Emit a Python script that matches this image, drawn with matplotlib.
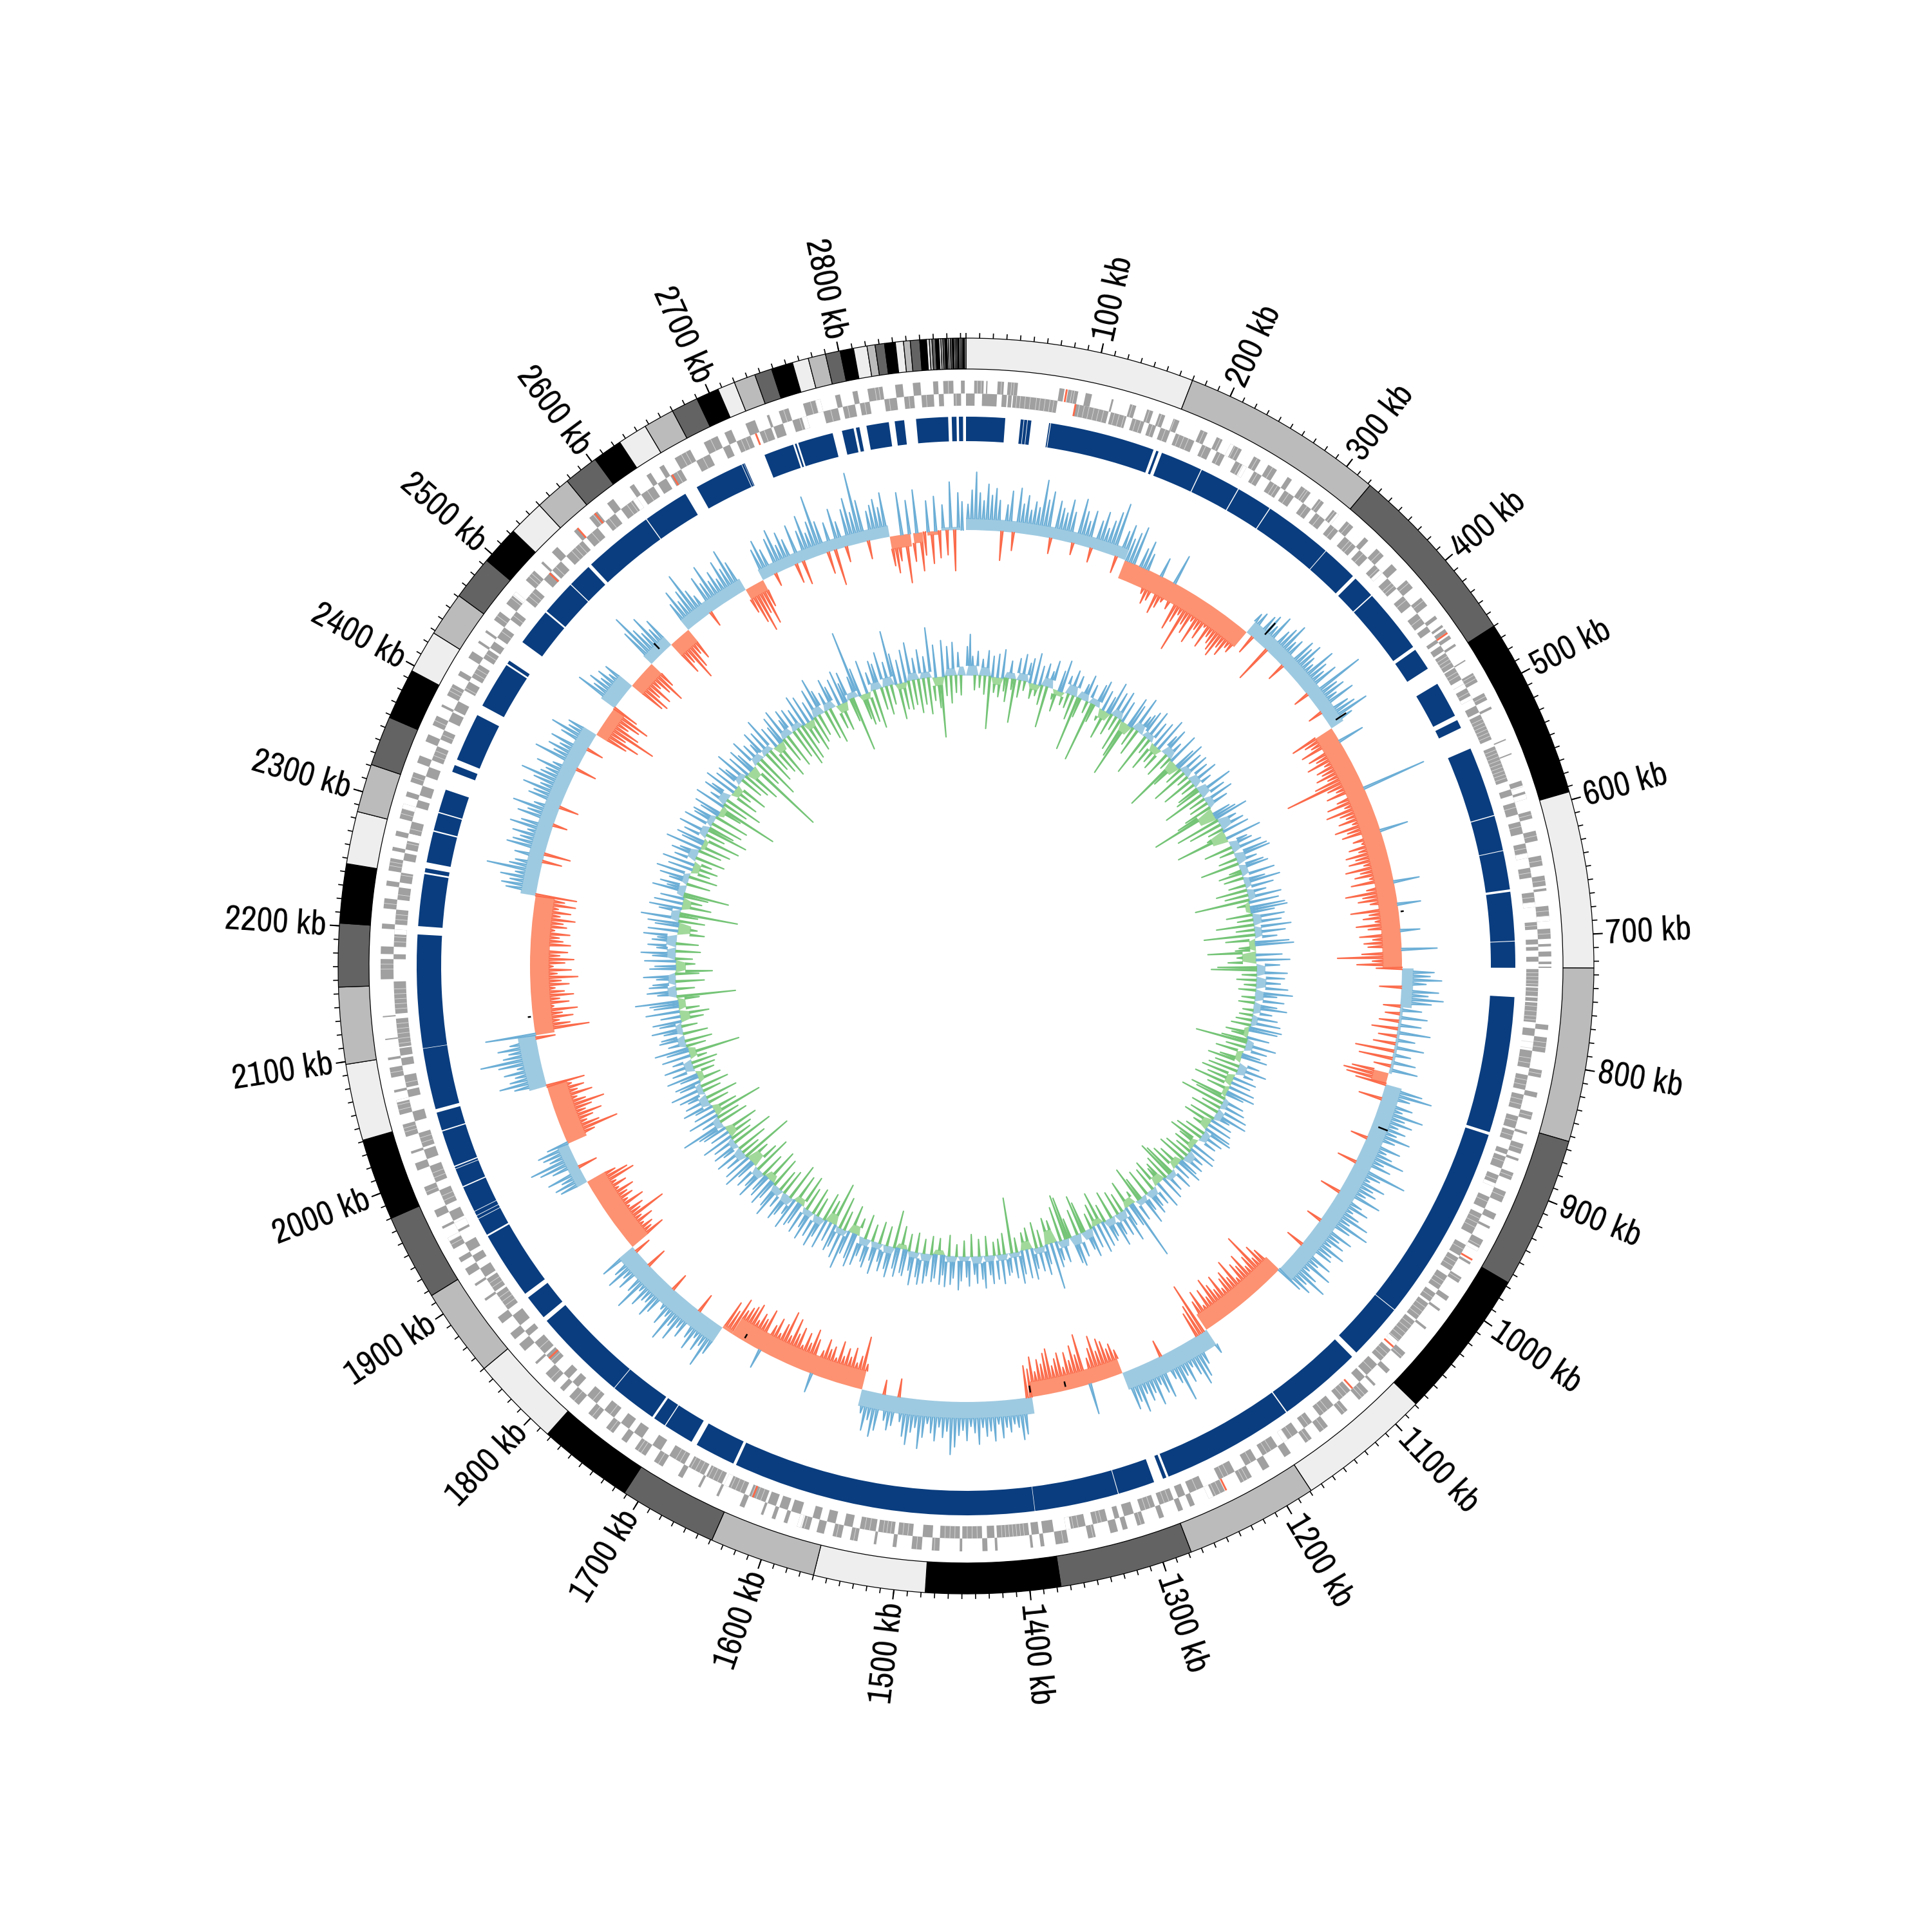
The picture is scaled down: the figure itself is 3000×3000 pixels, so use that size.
import numpy as np
import matplotlib
matplotlib.use('Agg')
from matplotlib import pyplot as plt

genome_kb = 2894.0

# contig borders of the outer ring (kb), colours cycle through band_colors
contig_edges = [0, 170, 322, 460, 594, 725, 854, 967, 1079, 1179, 1278, 1377, 1477, 1560, 1639, 1712, 1783,
                1850, 1916, 1980, 2041, 2098, 2155, 2202, 2246, 2285, 2321, 2358, 2396, 2428, 2461, 2494,
                2523, 2550, 2577, 2603, 2625, 2647, 2670, 2690, 2707, 2720, 2736, 2749, 2765, 2777, 2790,
                2801, 2811, 2821, 2827, 2834, 2842, 2848, 2853, 2860, 2865, 2867, 2869, 2871.5, 2874,
                2875.5, 2877, 2878.5, 2880, 2881, 2882.5, 2884, 2885, 2886, 2887, 2888, 2889, 2890, 2891,
                2892, 2893, 2894]
band_colors = ['#eeeeee', '#bbbbbb', '#636363', '#000000']

# dark blue track, covered stretches (kb)
blue_track = [(0, 33), (46, 48.5), (49, 51.5), (52, 55), (70, 71), (71.6, 160.5), (163, 165), (168, 203.6),
              (204.4, 238.6), (239.4, 269.6), (270.4, 328.7), (329.3, 360), (363, 382), (383, 438), (441, 460),
              (475, 505.6), (509.7, 517), (536, 595.2), (596, 625.7), (626.3, 659), (661, 702.3), (702.9, 725),
              (749.6, 865), (867.5, 1034.7), (1035.3, 1083), (1088, 1159.5), (1160.5, 1273), (1275, 1278),
              (1286, 1317.2), (1317.8, 1388.8), (1389.2, 1646), (1648.5, 1683), (1688, 1713.6), (1714.4, 1725),
              (1727, 1766.7), (1767.3, 1847), (1851, 1872), (1876, 1933.5), (1935, 1950), (1950.5, 1953),
              (1953.5, 1957), (1957.5, 1979.5), (1980.5, 1996), (1996.5, 1998), (1999, 2029.5), (2030.5, 2046),
              (2049, 2100.8), (2101.2, 2197), (2204, 2248), (2249.5, 2253), (2258, 2284.3), (2285.5, 2300.5),
              (2301.5, 2321), (2337, 2343), (2348, 2389), (2398, 2437.5), (2439, 2442), (2461, 2492.5),
              (2494, 2523.7), (2524.5, 2545), (2548, 2607.6), (2608.4, 2647), (2658, 2700), (2700.5, 2702),
              (2702.3, 2703), (2721, 2746.5), (2748, 2749.5), (2751, 2781), (2789, 2799), (2801, 2804),
              (2810, 2829), (2834, 2842), (2852, 2879), (2882, 2886), (2888, 2891.5)]

# gene rows
genes_outer = [(6.5, 14), (16, 17), (25, 30), (33, 41), (74, 78), (81, 89), (95, 100), (116, 117.5), (131, 136),
               (145, 150), (155, 160), (167, 172), (190, 196), (204, 209), (216, 226), (237, 243), (250, 258),
               (268, 272), (281, 290), (298, 303), (312, 318), (326, 333), (345, 349), (358, 366), (375, 381),
               (392, 400), (410, 418), (428, 431), (437, 439), (441, 444), (447, 450), (455, 457), (470, 471),
               (482, 490), (500, 506), (512, 514), (540, 541), (552, 553), (575, 579), (584, 590), (600, 606),
               (616, 624), (636, 644), (652, 660), (662, 664), (676, 688), (694, 702), (706, 708), (712, 716),
               (720, 722), (724, 725), (770, 774), (780, 792), (806, 812), (824, 828), (840, 846), (856, 858),
               (866, 874), (878, 880), (890, 896), (906, 915), (925, 930), (936, 938), (948, 958), (968, 970),
               (982, 987), (1000, 1004), (1012, 1014), (1030, 1032), (1056, 1062), (1074, 1078), (1090, 1092),
               (1098, 1108), (1120, 1126), (1140, 1148), (1156, 1162), (1176, 1182), (1196, 1202), (1212, 1222),
               (1236, 1250), (1262, 1266), (1272, 1276), (1288, 1292), (1304, 1310), (1318, 1322), (1326, 1332),
               (1344, 1350), (1366, 1376), (1385, 1388), (1394, 1396), (1422, 1424), (1430, 1434), (1450, 1452),
               (1468, 1474), (1482, 1490), (1502, 1505), (1518, 1520), (1533, 1539), (1546, 1553), (1560, 1566),
               (1572, 1582), (1590, 1593), (1600, 1603), (1610, 1612), (1626, 1630), (1648, 1650), (1664, 1666),
               (1680, 1684), (1698, 1706), (1714, 1724), (1732, 1737), (1745, 1752), (1762, 1770), (1780, 1790),
               (1796, 1800), (1806, 1816), (1826, 1828), (1840, 1847), (1852, 1858), (1868, 1874), (1890, 1892),
               (1904, 1906), (1914, 1920), (1926, 1930), (1938, 1948), (1956, 1958), (1966, 1972), (1985, 1992),
               (2006, 2012), (2020, 2022), (2034, 2044), (2052, 2064), (2070, 2072), (2082, 2090), (2096, 2098),
               (2112, 2113), (2130, 2131), (2160, 2176), (2180, 2186), (2200, 2204), (2216, 2224), (2234, 2238),
               (2246, 2256), (2262, 2265), (2274, 2278), (2288, 2300), (2306, 2310), (2318, 2326), (2334, 2340),
               (2352, 2358), (2366, 2374), (2382, 2384), (2392, 2402), (2410, 2414), (2426, 2432), (2440, 2442),
               (2450, 2452), (2462, 2470), (2478, 2490), (2502, 2512), (2520, 2522), (2532, 2538), (2556, 2560),
               (2572, 2580), (2590, 2596), (2612, 2616), (2628, 2632), (2640, 2644), (2654, 2668), (2680, 2692),
               (2698, 2704), (2716, 2724), (2734, 2736), (2744, 2752), (2764, 2778), (2790, 2794), (2804, 2808),
               (2816, 2828), (2838, 2844), (2852, 2858), (2868, 2872), (2876, 2884), (2890, 2893)]
genes_inner = [(0, 7), (13, 25), (29, 33), (34, 37), (38, 74), (89, 116), (118, 131), (136, 146), (150, 156),
               (160, 168), (173, 189), (196, 204), (209, 216), (226, 236), (243, 250), (258, 268), (272, 281),
               (290, 298), (303, 312), (318, 326), (333, 345), (349, 358), (366, 375), (381, 392), (400, 410),
               (418, 428), (431, 436), (444, 447), (450, 455), (457, 470), (471, 482), (490, 500), (506, 512),
               (514, 536), (542, 572), (579, 584), (590, 600), (606, 616), (624, 636), (644, 652), (664, 676),
               (688, 694), (702, 706), (708, 711), (716, 720), (726, 740), (741, 752), (753, 769), (774, 780),
               (792, 806), (812, 824), (828, 840), (846, 856), (858, 866), (874, 878), (880, 890), (896, 906),
               (915, 925), (930, 948), (958, 968), (970, 982), (987, 1000), (1004, 1012), (1014, 1030),
               (1032, 1056), (1062, 1074), (1078, 1090), (1092, 1098), (1108, 1120), (1126, 1140), (1148, 1156),
               (1162, 1176), (1182, 1196), (1202, 1212), (1222, 1236), (1250, 1262), (1266, 1272), (1276, 1288),
               (1292, 1304), (1310, 1318), (1322, 1326), (1332, 1344), (1350, 1366), (1376, 1385), (1388, 1394),
               (1396, 1422), (1424, 1430), (1434, 1450), (1452, 1468), (1474, 1482), (1490, 1502), (1505, 1518),
               (1520, 1533), (1539, 1546), (1553, 1560), (1566, 1572), (1582, 1590), (1593, 1600), (1603, 1610),
               (1612, 1626), (1630, 1648), (1650, 1664), (1666, 1680), (1684, 1698), (1706, 1714), (1724, 1732),
               (1737, 1745), (1752, 1762), (1770, 1780), (1790, 1796), (1800, 1806), (1816, 1826), (1828, 1840),
               (1847, 1852), (1858, 1868), (1874, 1890), (1892, 1904), (1906, 1914), (1920, 1926), (1930, 1938),
               (1948, 1956), (1958, 1966), (1972, 1985), (1992, 2006), (2012, 2020), (2022, 2034), (2044, 2052),
               (2064, 2070), (2072, 2082), (2090, 2096), (2098, 2104), (2105, 2128), (2132, 2158), (2176, 2180),
               (2186, 2200), (2204, 2216), (2224, 2234), (2238, 2246), (2256, 2262), (2265, 2274), (2278, 2288),
               (2300, 2306), (2310, 2318), (2326, 2334), (2340, 2352), (2358, 2366), (2374, 2382), (2384, 2392),
               (2402, 2410), (2414, 2426), (2432, 2440), (2442, 2450), (2452, 2462), (2470, 2478), (2490, 2502),
               (2512, 2520), (2522, 2532), (2538, 2556), (2560, 2572), (2580, 2590), (2596, 2612), (2616, 2628),
               (2632, 2640), (2644, 2654), (2668, 2680), (2692, 2698), (2704, 2716), (2724, 2734), (2736, 2744),
               (2752, 2764), (2778, 2790), (2794, 2804), (2808, 2816), (2828, 2838), (2844, 2852), (2858, 2868),
               (2872, 2876), (2884, 2890)]
# stretches left open inside the gene rows
empty_inner = [(232, 236), (284, 288), (372, 375), (497, 500), (632, 636), (672, 676), (748, 749), (903, 906),
               (1053, 1056), (1172, 1176), (1362, 1366), (1644, 1648), (1762, 1768), (1950, 1956), (2196, 2200),
               (2272, 2278), (2448, 2452), (2608, 2612), (2760, 2764)]
empty_outer = [(216, 219), (316, 318), (586, 590), (684, 688), (955, 958), (1246, 1250), (1578, 1582), (1945, 1948),
               (2062, 2064), (2296, 2300), (2486, 2490), (2774, 2778)]
# pale lines between single genes
hair_inner = [41, 44, 48, 52, 57, 60, 64, 68, 71, 92, 96, 100, 104, 108, 112, 121, 125, 129, 139, 143, 153, 164, 176,
              180, 184, 199, 212, 230, 233, 246, 262, 265, 276, 294, 307, 322, 338, 341, 353, 370, 386, 389, 404, 423,
              460, 463, 466, 475, 478, 486, 494, 518, 521, 524, 527, 530, 533, 545, 548, 551, 554, 557, 560, 563, 566,
              569, 594, 610, 628, 632, 648, 668, 672, 691, 729, 732, 735, 738, 744, 748, 756, 760, 764, 767, 785, 790,
              798, 802, 816, 820, 832, 836, 850, 862, 884, 900, 919, 934, 938, 942, 962, 974, 978, 992, 996, 1008,
              1018, 1022, 1026, 1036, 1040, 1044, 1048, 1052, 1066, 1070, 1084, 1112, 1116, 1132, 1136, 1152, 1168,
              1172, 1188, 1192, 1207, 1228, 1232, 1256, 1280, 1284, 1296, 1300, 1337, 1340, 1356, 1360, 1400, 1403,
              1406, 1409, 1412, 1415, 1418, 1438, 1442, 1446, 1456, 1460, 1464, 1494, 1498, 1508, 1511, 1514, 1525,
              1529, 1616, 1620, 1624, 1634, 1638, 1642, 1654, 1658, 1662, 1670, 1674, 1678, 1688, 1692, 1756, 1774,
              1820, 1834, 1878, 1882, 1886, 1896, 1900, 1976, 1980, 1996, 2000, 2026, 2030, 2076, 2108, 2112, 2116,
              2120, 2124, 2136, 2140, 2144, 2148, 2152, 2190, 2194, 2208, 2212, 2228, 2244, 2270, 2282, 2344, 2348,
              2362, 2404, 2418, 2422, 2436, 2458, 2474, 2494, 2498, 2526, 2544, 2548, 2552, 2566, 2584, 2602, 2606,
              2622, 2650, 2674, 2708, 2712, 2728, 2758, 2784, 2798, 2812, 2832, 2848, 2862, 2886]
hair_outer = [9, 12, 28, 36, 38, 84, 86, 133, 147, 157, 168, 193, 207, 220, 223, 240, 254, 285, 287, 300, 314, 329,
              362, 395, 413, 484, 487, 503, 580, 603, 620, 640, 656, 680, 684, 698, 784, 788, 809, 843, 870, 893,
              910, 953, 984, 1060, 1102, 1105, 1123, 1144, 1159, 1216, 1219, 1240, 1244, 1307, 1346, 1370, 1472,
              1486, 1536, 1550, 1576, 1579, 1702, 1718, 1721, 1748, 1766, 1785, 1810, 1942, 1945, 1988, 2038, 2041,
              2056, 2060, 2086, 2168, 2172, 2220, 2250, 2253, 2292, 2296, 2322, 2370, 2396, 2399, 2466, 2484, 2487,
              2506, 2509, 2576, 2660, 2664, 2686, 2748, 2770, 2774, 2822, 2825, 2880]
genes_red_outer = [79, 965, 1234, 2577, 2559, 444]
genes_red_inner = [88, 1058, 1105, 1622, 1822, 2518, 2645, 2720]

# first histogram track, one value per 4 kb, pixels from the baseline (+ out, - in)
skew_values = [
    40, 62, 90, 58, 46, 72, 55, 66, 48, -45, 42, 64, -28, 70, 46, 60, 38, 52, 44, 88, 58, 72, -24, 60, 50,
    44, 66, 48, -18, 72, 54, 40, 58, -22, 46, 62, 38, 52, 68, 84, -26, 44, 56, 36, 48, 60, -20, 30, 44, 26,
    -38, -52, -44, 30, -60, -48, -36, 47, -42, -30, -70, -55, -40, -98, -50, -62, -38, -72, -46, -58, -34, -66, -44, -52, -60,
    -67, -48, -58, -40, -44, 36, 42, -30, 46, 52, 38, 60, -59, 44, 54, 66, 40, 48, -28, 58, 50, 62, 44, 36, 70,
    52, 42, 60, -24, 96, 48, 56, 38, 64, -22, 46, 54, 72, 41, -71, -52, -44, -64, 41, -58, -48, -66, -40, -56, -50,
    -62, -46, -70, -120, -54, -42, -60, 101, -48, -66, -40, -72, -52, -44, -58, -38, -68, -50, -60, 44, -46, -34, -56, -42, -64,
    -50, -62, -40, -70, -48, -58, -36, -66, 40, -44, -78, -52, -60, -42, 36, -74, -46, -56, -38, -68, -50, 30, -64, -44, -58,
    -52, 55, -62, -100, -46, -70, -40, 50, 44, 62, 38, -34, 58, 42, 66, 48, -26, 34, -22, 44, -30, 36, -40, 52, -28,
    30, -34, 46, -60, 28, -52, 38, -26, 44, -58, -70, -64, -48, 60, 77, 44, -36, 52, 38, 73, 46, 60, 40, 54, 42,
    66, 44, -26, 58, 38, 50, 72, 42, 56, -30, 87, 48, 34, 62, 46, 54, 40, 68, -32, 44, 58, 36, 50, 70, 42,
    78, 50, -24, 62, 44, 56, 38, 66, 48, 52, -28, 60, 42, 70, 36, 54, 76, 46, 58, 44, -48, -60, -42, -89, -54,
    -40, -66, -50, -58, -36, -72, -46, -60, -52, -38, -64, -44, -56, -70, -42, -58, -34, -62, -48, 42, -83, -50, -40, 46, 64,
    74, 54, 38, 60, 46, 84, 52, 42, -26, 66, 56, 40, 70, 48, 58, 44, 71, 52, 62, -38, -50, -44, -58, -64, -46,
    -72, -54, -40, 48, -81, -50, -66, -44, -58, -36, -60, -52, -42, -70, -64, -48, -56, -38, -62, -44, -50, 56, 64, 44, 38,
    50, 42, 58, 36, 62, 46, 54, 40, 66, 48, 38, 60, 44, 52, 70, 82, 46, 56, 40, 62, 50, 36, 58, 76, 44,
    52, 72, 60, 38, -28, 46, 54, 40, -22, 58, 69, 44, 62, 36, -40, -82, -50, -38, -60, -44, -56, -42, -64, -36, -52,
    -46, -60, -40, 30, -54, -68, -44, -58, -36, -62, -50, -72, -42, -79, -56, -38, -60, -46, 30, -66, -48, -54, -40, -64, -57,
    -52, -44, -60, -36, -48, 50, 75, 44, 56, 38, 62, 46, -30, 54, 42, 68, 48, 77, 40, 58, 36, -28, 52, 64, 44,
    46, 60, 38, 77, 50, -32, 56, 42, 66, 48, -26, 61, -62, -44, -50, -38, -58, -42, -87, -48, -56, -36, -64, -40, -52,
    -46, -60, -38, -54, -40, -74, -66, -48, 44, 50, 36, 56, -30, 42, 60, 73, 38, 46, 52, 34, -48, -88, -60, -42, -54,
    -70, -46, -58, -80, -52, -40, -66, -44, -56, -38, -60, 50, 72, 54, 44, 60, 38, 66, 93, 56, 46, 62, 42, -30, 78,
    -85, -56, -40, -62, -46, -70, -34, -58, -44, -66, -52, -38, -60, -48, -74, -42, -64, -36, -54, -68, -46, -58, -30, -62, -50,
    -44, -60, -36, -54, -48, -66, -42, -58, -38, -64, -46, -64, 48, 56, 44, 60, 38, 84, 50, 42, -30, 46, -41, 62, 54,
    44, 58, 36, 66, 50, -22, 60, 46, 72, 40, -30, 54, 48, 68, 42, 56, 79, 50, 44, 62, 38, -32, 74, 46, 58,
    42, 60, -26, 50, 70, 44, 48, -52, -70, -44, -91, -60, -38, -54, -66, -42, 72, 48, 60, 44, 54, 38, 50, -58, -64,
    -44, -60, -36, -50, -70, -46, 62, 87, 56, 44, 68, 40, 52, -58, -44, -77, -60, -40, -52, 48, 66, 44, 58, 83, 50,
    36, -24, 60, 46, 72, 42, 54, 38, 64, 48, 76, 52, -40, -60, -77, -50, -70, -44, 50, 62, 44, -20, 56, 68, 40,
    58, 44, -30, 62, -37, 48, 70, 40, 56, 95, 52, -34, 46, -56, 64, 42, -24, 58, 74, 50, 111, 66, -28, 46, 54,
    62, 48, 70, -46, -58, -40, 66, -76, 52, -44, 67, -60, -36, 48, -50, 54, -42, 40, -38, 75, -63, 58, 44, 0]
# light band under the first track: start kb, end kb, height
skew_band_start = [0, 172, 322, 458, 726, 767, 838, 850, 1078, 1178, 1278, 1377, 1558, 1708, 1720, 1848, 1932, 1977,
                   2042, 2097, 2245, 2428, 2462, 2492, 2523, 2552, 2576, 2650, 2671, 2813, 2838, 2853, 2868]
skew_band_end = [172, 322, 458, 726, 767, 838, 850, 1078, 1178, 1278, 1377, 1558, 1708, 1720, 1848, 1932, 1977, 2042,
                 2097, 2245, 2428, 2462, 2492, 2523, 2552, 2576, 2650, 2671, 2813, 2835, 2848, 2866, 2888]
skew_band_height = [18, -30, 22, -30, 18, 5, -24, 26, -28, 28, -24, 26, -30, -6, 28, -32, 18, -32, 28, -30, 24, -20,
                    26, -22, 18, -24, 20, -18, 18, -20, -16, -6, 5]
# short black marks in the first track: kb, height
black_kb = [338, 453, 666, 895, 1340, 1378, 1694, 2117, 2540]
black_height = [40, 32, 8, 26, -14, -18, -12, 8, 20]

# second histogram track, one value per 4 kb (+ out, - in)
gc_values = [
    45, 64, 30, -22, 38, -18, 26, -28, 40, -81, 32, -24, 36, -30, 44, -20, -36, 28, -16, -67, 34, -26, 42, -14, 30,
    38, -24, 48, -18, 30, -30, 36, -64, 26, 44, -16, -34, 32, 50, -20, 28, -22, 40, -38, 34, -85, -30, 26, 42, -18,
    30, -94, -28, 36, 44, -20, 32, -46, 26, 52, -34, 40, -22, 46, -52, 34, -60, -90, 48, 38, -30, 56, -42, 30, 36,
    44, -67, 50, -24, 36, -48, 42, -30, 54, -36, 32, 46, -40, 28, -20, 50, -90, -44, 34, 48, -28, 38, -58, 42, -18,
    36, -50, 46, -22, 30, -34, -40, 57, -66, 40, -26, 48, -30, 34, -44, -60, -103, 28, 36, 53, -70, 30, -52, 38, -24,
    42, -30, -82, 56, -20, 30, 36, -44, 48, -22, 54, 57, -28, 32, -60, 40, 46, -18, -36, 52, -30, 34, 57, -26, 44,
    -48, 30, -36, 52, -85, 46, -20, 54, 57, 36, -40, 50, -24, 44, -58, 58, -28, 48, -79, 34, -46, 52, 59, -26, -32,
    -75, 40, -30, 52, -44, 36, -60, -70, 48, -22, 44, -30, 38, -18, 50, -26, 58, 34, -20, 46, -24, 36, 52, -16, 30,
    -20, 40, -24, 46, -30, 50, 44, -36, -26, 34, -40, -80, 48, -30, 36, -44, 28, 40, -34, -52, 32, -38, 46, -46, 28,
    -54, 36, -42, 30, -60, 40, -36, 44, 28, -58, -48, 34, -69, 40, -30, 48, -44, 52, 26, -40, 34, -46, 38, -26, 42,
    46, -32, 36, -44, 30, -50, -31, 38, -34, 42, -26, 28, -40, 34, -46, 30, 40, -36, 26, -44, 36, -52, -60, 30, -40,
    38, -34, -28, 44, -46, 32, -38, 30, 40, -42, 28, 48, -36, -57, 34, -20, 94, 36, -44, 30, 54, -30, 40, -38, 34,
    50, -44, 30, 36, -28, 40, -52, 46, -36, 34, -24, 45, 32, -48, -60, 38, -40, 50, 44, -30, -66, -71, 36, -54, 30,
    40, -36, 72, -42, 30, 46, -26, 38, -40, 32, 48, -34, 44, -28, 36, 50, -22, 40, -86, 30, 34, -32, 46, -24, 38,
    -20, 44, 30, -30, 50, 36, -26, 42, 28, -34, 46, 32, -24, 38, 52, -18, 34, 44, -32, 48, 30, 45, -26, 36, 42,
    -28, 34, 46, -22, 49, 38, -30, 52, 30, -26, 40, 36, -36, 44, 32, -58, 48, 36, -30, 42, 28, -34, 50, 30, -26,
    44, 36, -38, 30, 46, -28, 52, 40, -44, 36, 62, -30, 48, -50, 34, 42, -68, 30, -36, 46, -44, 32, 50, -30, 38,
    -42, 48, 30, -36, 44, -52, 34, 40, -46, 50, 28, -58, 36, 46, -40, 30, -34, 52, 38, -48, 30, 44, -54, 36, 28,
    -38, 48, 32, -60, 40, -44, 30, 52, -36, 44, -83, 34, -30, 46, -48, 28, 42, -66, 36, -34, 50, -40, 30, -54, 38,
    44, 69, -46, 30, -36, 48, -78, 34, -40, 28, 46, -32, 38, -50, 30, 42, -28, 52, -44, 34, 40, -36, 28, 48, -30,
    36, -34, 46, -40, 30, -26, 44, -81, 34, 52, -30, 28, -42, 40, 36, -38, 30, 48, -24, 34, 44, -36, 30, -46, 52,
    -32, 38, 44, 66, -34, -91, 30, 46, -28, 42, 36, -44, 30, 50, -36, -57, 40, 32, -30, 48, -26, 36, 54, -38, 30,
    44, -34, 38, 30, 52, -42, 46, -30, 36, 48, -40, 60, -28, -90, 34, 50, -46, 44, -30, 36, -38, -70, 52, 30, 42,
    -36, 30, 46, -44, 54, -30, 38, -40, 50, -28, 34, -46, 42, 30, -36, 56, -48, 34, 44, -58, 36, -30, 48, -64, -40,
    46, -50, 34, 38, -54, 30, 42, -36, -94, 48, -40, 28, -60, 44, 34, -46, 50, -30, 38, -52, 40, 30, -36, 52, -44,
    36, -56, 42, 30, -125, 48, -44, 34, -70, 28, 46, -52, 40, -38, 56, -48, 34, -60, 30, 44, -40, 50, -54, 28, 42,
    -46, 38, -64, 32, -58, 50, -36, 44, -52, 30, -42, 46, -34, 60, 38, -46, 30, -56, 48, 34, -38, 42, -44, 52, 30,
    46, -36, -85, 34, 105, 44, -40, -50, 52, -48, 30, -60, 46, 40, -34, 56, -44, 38, -30, 85, 48, -56, 36, -42, 50,
    -44, 60, -38, 34, -52, 46, -40, 34, -56, 78, -36, 50, -48, -94, 56, -30, 46, -42, 52, -26, 36, -30, 0, 0]
# light band of the second track, one value per 20 kb
gc_band = [16, 14, -12, 10, 12, -10, 14, -8, 16, 12,
           10, -14, 12, -16, 14, 10, -12, 14, -18, 12,
           14, 16, 12, -26, 18, -24, 14, 16, 12, 10,
           12, -8, 14, 12, -10, -22, 14, 16, 14, 12,
           10, -8, 12, -10, 14, -12, -8, 10, 12, -14,
           12, -10, 14, -12, 10, -14, 12, 10, -12, 14,
           12, -10, 14, 16, 12, -22, 10, -14, 8, 10,
           10, 12, 8, 10, -8, 12, 10, -8, 12, 10,
           12, -14, 10, -16, 12, 10, -10, 14, 12, -12,
           12, -20, 14, 10, -14, 12, -12, 14, 10, -10,
           14, -12, 12, 10, -16, -12, 14, 12, -16, 14,
           16, -20, 14, -14, 12, 10, -12, 14, -8, 12,
           10, -10, 14, -12, 10, -16, 12, 10, -14, 12,
           10, -12, 14, 12, -14, 10, -10, 12, 14, -10,
           12, 10, -14, 12, 14]

major_ticks = list(range(100, 2801, 100))
tick_labels = ['%d kb' % k for k in major_ticks]
minor_ticks = list(range(0, 2891, 10))
label_font = ['Archivo Narrow', 'Liberation Sans', 'DejaVu Sans']


def rad(kb):
    return 2 * np.pi * np.asarray(kb, dtype=float) / genome_kb


def ring(ax, starts, ends, r0, r1, **kw):
    starts = np.asarray(starts, dtype=float)
    ends = np.asarray(ends, dtype=float)
    ax.bar(rad((starts + ends) / 2), r1 - r0, width=rad(ends - starts), bottom=r0, **kw)


def skew_band_at(kb):
    for a, b, h in zip(skew_band_start, skew_band_end, skew_band_height):
        if a <= kb < b:
            return h
    return 0


def gc_band_at(kb):
    return gc_band[min(int(kb // 20), len(gc_band) - 1)]


def spikes(ax, values, base, band_at, half, line_up, line_down, fill_up, fill_down):
    # each value is a thin wedge that starts on top of the light band
    for i, v in enumerate(values):
        if v == 0:
            continue
        kb = (i + 0.5) * 4
        h = band_at(kb)
        valley = h if h * v > 0 else 0
        if abs(v) <= abs(valley):
            continue
        th = rad([kb - half, kb, kb + half])
        rr = [base + valley, base + v, base + valley]
        ax.fill(th, rr, color=fill_up if v > 0 else fill_down, lw=0)
        ax.plot(th, rr, color=line_up if v > 0 else line_down, lw=0.5)


fig = plt.figure(figsize=(10, 10), dpi=300)
ax = fig.add_axes([0, 0, 1, 1], polar=True)
ax.set_theta_zero_location('N')
ax.set_theta_direction(-1)

# outer ring, radii are pixels from the centre
edges = np.array(contig_edges, dtype=float)
cols = [band_colors[i % 4] for i in range(len(edges) - 1)]
ring(ax, edges[:-1], edges[1:], 927, 975, color=cols, edgecolor='black', linewidth=0.3)

# scale
ax.vlines(rad(minor_ticks), 975, 983, color='black', lw=0.4)
ax.vlines(rad(major_ticks), 975, 990, color='black', lw=0.5)
for k, lab in zip(major_ticks, tick_labels):
    ang = float(np.degrees(rad(k)))
    if ang < 180:
        ax.text(rad(k), 995, lab, rotation=90 - ang, ha='left', va='center', rotation_mode='anchor',
                fontsize=13, family=label_font)
    else:
        ax.text(rad(k), 995, lab, rotation=270 - ang, ha='right', va='center', rotation_mode='anchor',
                fontsize=13, family=label_font)

# gene rows
ring(ax, [g[0] for g in genes_outer], [g[1] for g in genes_outer], 889, 909, color='#a0a0a0', linewidth=0)
ring(ax, [g[0] for g in genes_inner], [g[1] for g in genes_inner], 870, 889, color='#a0a0a0', linewidth=0)
ring(ax, [g[0] for g in empty_outer], [g[1] for g in empty_outer], 889, 909, color='white', linewidth=0)
ring(ax, [g[0] for g in empty_inner], [g[1] for g in empty_inner], 870, 889, color='white', linewidth=0)
ax.vlines(rad(hair_outer), 889, 909, color='#dddddd', lw=0.2)
ax.vlines(rad(hair_inner), 870, 889, color='#dddddd', lw=0.2)
ring(ax, np.array(genes_red_outer), np.array(genes_red_outer) + 1.5, 889, 909, color='#fb6a4a', linewidth=0)
ring(ax, np.array(genes_red_inner), np.array(genes_red_inner) + 1.5, 870, 889, color='#fb6a4a', linewidth=0)

# dark blue track
ring(ax, [b[0] for b in blue_track], [b[1] for b in blue_track], 815, 853, color='#0a3d7f', linewidth=0)

# first histogram, baseline 677
for a, b, h in zip(skew_band_start, skew_band_end, skew_band_height):
    if h > 0:
        ring(ax, [a], [b], 677, 677 + h, color='#9ecae1', linewidth=0)
    else:
        ring(ax, [a], [b], 677 + h, 677, color='#fc9272', linewidth=0)
spikes(ax, skew_values, 677, skew_band_at, 1.1, '#6baed6', '#fb6a4a', '#9ecae1', '#fc9272')
for k, h in zip(black_kb, black_height):
    ax.vlines(rad(k), 677 + h * 0.4, 677 + h, color='black', lw=0.6)

# second histogram, baseline 451
for i, h in enumerate(gc_band):
    a, b = i * 20, min((i + 1) * 20, genome_kb)
    th = rad([a, a + 4, b - 4, b])
    rr = [451, 451 + h, 451 + h, 451]
    ax.fill(th, rr, color='#9ecae1' if h > 0 else '#a1d99b', lw=0)
spikes(ax, gc_values, 451, gc_band_at, 1.2, '#6baed6', '#74c476', '#9ecae1', '#a1d99b')

ax.set_rlim(0, 1500)
ax.axis('off')
fig.savefig('out.png', dpi=300, facecolor='white')
